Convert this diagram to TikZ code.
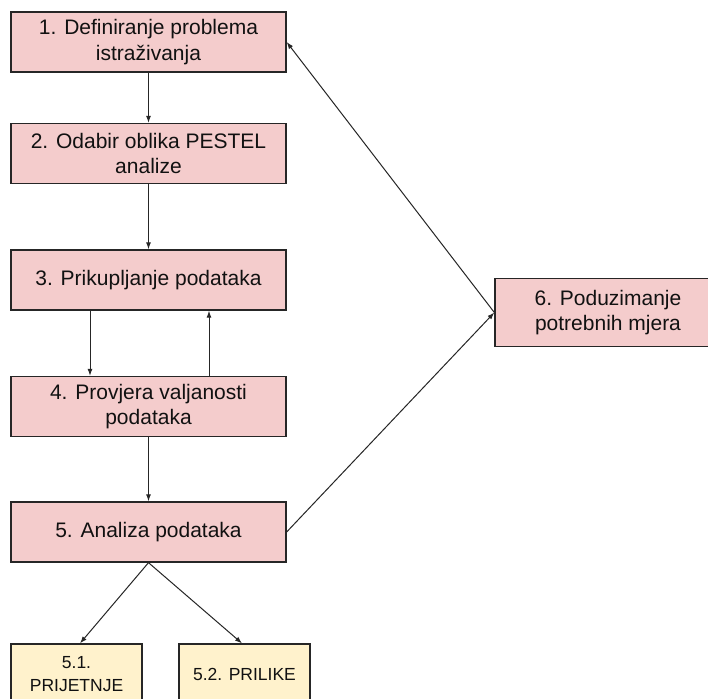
\documentclass[tikz,border=0pt]{standalone}
\usepackage{fontspec}
\setmainfont{Liberation Sans}
\usetikzlibrary{calc}
\usetikzlibrary{arrows.meta}
\usepackage{xcolor}
\definecolor{boxpink}{HTML}{F4CCCC}
\definecolor{boxyellow}{HTML}{FFF2CC}
\definecolor{edge}{HTML}{262626}
\definecolor{txt}{HTML}{111111}

\begin{document}
\begin{tikzpicture}[x=1pt,y=-1pt,
  box/.style={draw=edge,line width=1.3pt,fill=boxpink,text=txt,align=center,
    minimum width=275pt,minimum height=60pt,inner sep=0pt,
    font=\fontsize{21}{25.5}\selectfont},
  smallbox/.style={box,fill=boxyellow,minimum width=131pt,
    font=\fontsize{17.5}{23}\selectfont},
  link/.style={draw=edge,line width=1pt,-{Latex[length=7pt,width=5pt]}}]
\clip (0,0) rectangle (708,698);
\fill[white] (0,0) rectangle (708,698);
\node[box] (n1) at (148.5,42) {1. Definiranje problema\\istraživanja};
\node[box] (n2) at (148.5,153.5) {2. Odabir oblika PESTEL\\analize};
\node[box] (n3) at (148.5,280) {3. Prikupljanje podataka};
\node[box] (n4) at (148.5,406.5) {4. Provjera valjanosti\\podataka};
\node[box] (n5) at (148.5,532) {5. Analiza podataka};
\node[box,minimum width=226pt,minimum height=68pt] (n6) at (608,312.5) {6. Poduzimanje\\potrebnih mjera};
\node[smallbox] (n51) at (76.5,674) {5.1.\\PRIJETNJE};
\node[smallbox] (n52) at (244.5,674) {5.2. PRILIKE};
% veze
\draw[link] (n1) -- (n2);
\draw[link] (n2) -- (n3);
\draw[link] ([xshift=-58.5pt]n3.south) -- ([xshift=-58.5pt]n4.north);
\draw[link] ([xshift=60.5pt]n4.north) -- ([xshift=60.5pt]n3.south);
\draw[link] (n4) -- (n5);
\draw[link] (n5.south) -- ([xshift=3.5pt]n51.north);
\draw[link] (n5.south) -- ([xshift=-2.5pt]n52.north);
\draw[link] (n5.east) -- (n6.west);
\draw[link] (n6.west) -- (n1.east);
\end{tikzpicture}
\end{document}
